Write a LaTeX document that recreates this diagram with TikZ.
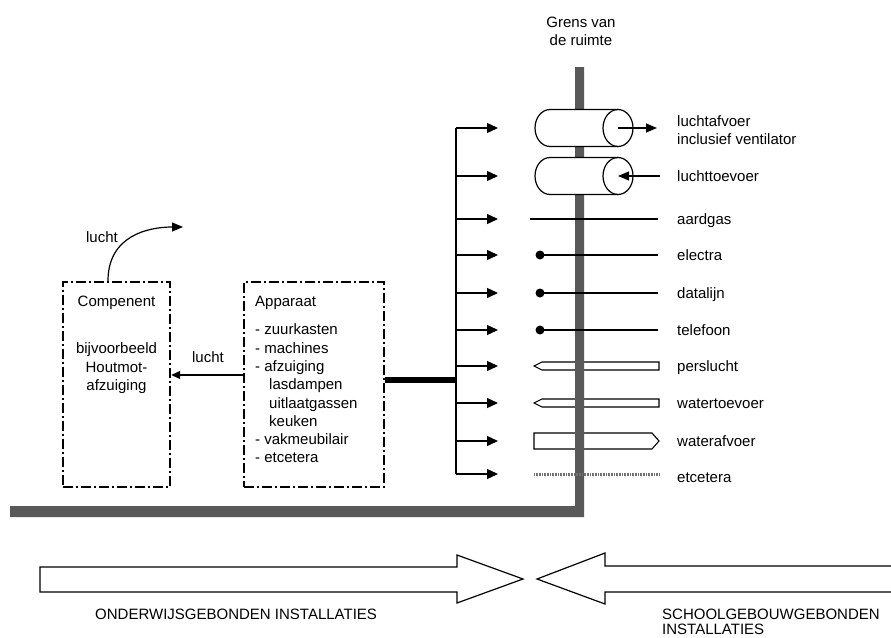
\documentclass[tikz,border=0pt]{standalone}
\usepackage{fontspec}
\setmainfont{Liberation Sans}
\usetikzlibrary{arrows.meta,positioning,calc}

\tikzset{
  wall/.style={fill=black!65},
  dashbox/.style={draw, line width=2.4pt, dash pattern=on 10pt off 3pt on 2pt off 3pt,
    minimum width=107pt, minimum height=205pt, inner sep=0pt},
  duct/.style={draw, fill=white, line width=1.2pt},
  branch/.style={line width=1.4pt, -{Triangle[length=11pt,width=10pt]}},
  flow/.style={line width=1.2pt, -{Triangle[length=11pt,width=9pt]}},
  whitepipe/.style={draw, fill=white, line width=1.1pt},
  lbl/.style={anchor=base west, inner sep=0pt},
  txt/.style={inner sep=0pt},
}

\begin{document}
\begin{tikzpicture}[x=1pt,y=-1pt,font=\fontsize{15}{18.3}\selectfont]
	\useasboundingbox (0,0) rectangle (891,637);

	% white pipes (under the wall)
	\draw[whitepipe] (534,366) -- (542,362) -- (659,362) -- (659,370) -- (542,370) -- cycle;
	\draw[whitepipe] (534,403) -- (542,399) -- (659,399) -- (659,407) -- (542,407) -- cycle;
	\draw[whitepipe] (534,433) -- (652,433) -- (659,441) -- (652,449) -- (534,449) -- cycle;

	% wall of the room
	\fill[wall] (575,67) -- (584,67) -- (584,517) -- (10,517) -- (10,506) -- (575,506) -- cycle;
	\node[txt, align=center] (grens) at (581,31) {Grens van\\de ruimte};

	% lines through the wall
	\draw[line width=2.8pt] (530,219) -- (658,219);
	\foreach \y [count=\i] in {255,293,330} {
		\node[circle, fill, inner sep=0pt, minimum size=9pt] (dot\i) at (540,\y) {};
		\coordinate (end\i) at (658,\y);
		\draw[line width=1.2pt] (dot\i.center) -- (end\i);
	}
	\draw[black!55, line width=3pt, dash pattern=on 1pt off 0.6pt] (534,474) -- (660,474);

	% ducts through the wall
	\foreach \y/\n in {128/a,176/b} {
		\draw[duct] (550,\y-18.5) -- (618,\y-18.5)
			arc[start angle=-90, end angle=90, x radius=15, y radius=18.5]
			-- (550,\y+18.5)
			arc[start angle=90, end angle=270, x radius=15, y radius=18.5] -- cycle;
		\draw[line width=1.2pt] (618,\y+18.5) arc[start angle=90, end angle=270, x radius=15, y radius=18.5];
		\coordinate (c\n) at (618,\y);
	}
	\coordinate (cae) at (657,128);
	\draw[flow] (ca) -- (cae);
	\coordinate (cbs) at (660,176);
	\draw[flow] (cbs) -- (cb);

	% distribution
	\coordinate (bt) at (456,128);
	\coordinate (bb) at (456,474);
	\draw[line width=2pt] (bt) -- (bb);
	\foreach \y [count=\i] in {128,176,219,255,293,330,366,403,441,474} {
		\coordinate (b\i) at (456,\y);
		\coordinate (t\i) at (498,\y);
		\draw[branch] (b\i) -- (t\i);
	}

	% labels
	\node[txt, anchor=north west, align=left] (lafv) at (677,115) {luchtafvoer\\inclusief ventilator};
	\foreach \y/\t [count=\i] in {176/luchttoevoer,219/aardgas,255/electra,293/datalijn,330/telefoon,366/perslucht,403/watertoevoer,441/waterafvoer,477/etcetera} {
		\node[lbl] (lab\i) at (677,\y+5) {\t};
	}

	% boxes
	\node[dashbox] (comp) at (116.5,384.5) {};
	\node[dashbox, minimum width=140pt] (app) at (314,384.5) {};
	\node[txt, anchor=north, align=center] (comptxt) at (116.5,296) {Compenent\\[29pt]bijvoorbeeld\\Houtmot-\\afzuiging};
	\node[txt, anchor=north west, align=left] (apptxt) at (255,296) {Apparaat\\[10pt]- zuurkasten\\- machines\\- afzuiging\\\hspace*{14pt}lasdampen\\\hspace*{14pt}uitlaatgassen\\\hspace*{14pt}keuken\\- vakmeubilair\\- etcetera};

	\coordinate (jn) at (456,379.5);
	\draw[line width=6pt] ([yshift=5pt]app.east) -- (jn);
	\draw[line width=1.2pt, -{Triangle[length=9pt,width=8pt]}] ([yshift=9.5pt]app.west) -- ([yshift=9.5pt]comp.east);
	\node[txt, anchor=base] (lucht) at (208,362) {lucht};

	\coordinate (up) at (183,227);
	\draw[flow] ([xshift=-8.5pt]comp.north) .. controls +(0,-45) and +(-35,0) .. (up);
	\node[txt, anchor=base] (luchtup) at (102,242) {lucht};

	% installations
	\draw[line width=1.2pt] (40,567) -- (457,567) -- (457,555) -- (523,579) -- (457,603) -- (457,592) -- (40,592) -- cycle;
	\draw[line width=1.2pt] (891,566) -- (605,566) -- (605,553) -- (537,579) -- (605,604) -- (605,592) -- (891,592);
	\node[lbl] (onderw) at (95,619) {ONDERWIJSGEBONDEN INSTALLATIES};
	\node[txt, anchor=north west, align=left] (school) at (662,609) {SCHOOLGEBOUWGEBONDEN\\[-3pt]INSTALLATIES};
\end{tikzpicture}
\end{document}
